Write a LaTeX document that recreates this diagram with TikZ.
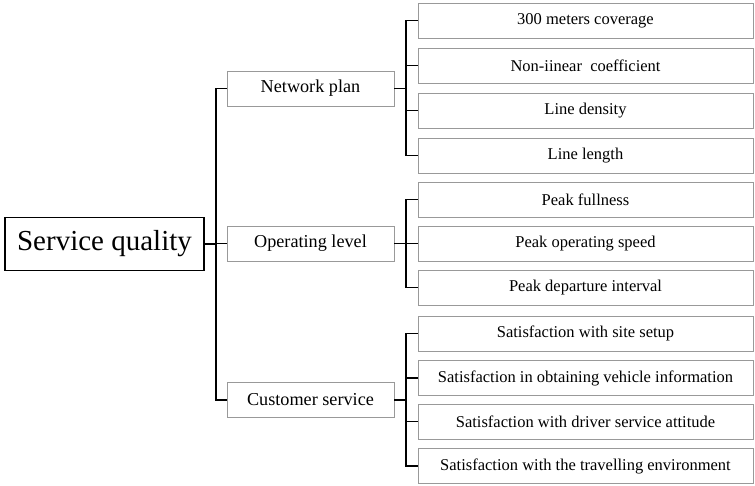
\documentclass[tikz,border=0pt]{standalone}
\usepackage{fontspec}
\setmainfont{Liberation Serif}
\begin{document}
\begin{tikzpicture}[x=1pt,y=-1pt,
  leafbox/.style={draw=black!40,line width=0.9pt,minimum width=335pt,minimum height=35pt,inner sep=0pt,font=\fontsize{16.5}{18}\selectfont},
  midbox/.style={draw=black!40,line width=0.9pt,minimum width=167pt,minimum height=35pt,inner sep=0pt,font=\fontsize{18.2}{20}\selectfont},
  rootbox/.style={draw=black,line width=1.8pt,minimum width=199pt,minimum height=53pt,inner sep=0pt,font=\fontsize{29}{32}\selectfont},
  conn/.style={draw=black,line width=1.8pt}]
\useasboundingbox (0,0) rectangle (755,485);
\node[rootbox] (root) at (104.5,244) {Service quality};
\node[midbox] (np) at (310.5,88.5) {Network plan};
\node[midbox] (ol) at (310.5,243.5) {Operating level};
\node[midbox] (cs) at (310.5,400) {Customer service};
\node[leafbox] (a1) at (585.5,20.5) {300 meters coverage};
\node[leafbox] (a2) at (585.5,65.5) {Non-iinear\ \ coefficient};
\node[leafbox] (a3) at (585.5,110.5) {Line density};
\node[leafbox] (a4) at (585.5,155.5) {Line length};
\node[leafbox] (b1) at (585.5,199.5) {Peak fullness};
\node[leafbox] (b2) at (585.5,243.5) {Peak operating speed};
\node[leafbox] (b3) at (585.5,287.5) {Peak departure interval};
\node[leafbox] (c1) at (585.5,333.5) {Satisfaction with site setup};
\node[leafbox] (c2) at (585.5,378) {Satisfaction in obtaining vehicle information};
\node[leafbox] (c3) at (585.5,421.5) {Satisfaction with driver service attitude};
\node[leafbox] (c4) at (585.5,466) {Satisfaction with the travelling environment};
\coordinate (t) at (216,0);
\coordinate (s) at (406,0);
\draw[conn] (root.east) -- (root.east -| t);
\draw[conn] (np.west) -- (np.west -| t) -- (cs.west -| t) -- (cs.west);
\draw[conn] (ol.west) -- (ol.west -| t);
\draw[conn] (np.east) -- (np.east -| s);
\draw[conn] (a1.west) -- (a1.west -| s) -- (a4.west -| s) -- (a4.west);
\draw[conn] (a2.west) -- (a2.west -| s);
\draw[conn] (a3.west) -- (a3.west -| s);
\draw[conn] (ol.east) -- (ol.east -| s);
\draw[conn] (b1.west) -- (b1.west -| s) -- (b3.west -| s) -- (b3.west);
\draw[conn] (b2.west) -- (b2.west -| s);
\draw[conn] (cs.east) -- (cs.east -| s);
\draw[conn] (c1.west) -- (c1.west -| s) -- (c4.west -| s) -- (c4.west);
\draw[conn] (c2.west) -- (c2.west -| s);
\draw[conn] (c3.west) -- (c3.west -| s);
\end{tikzpicture}
\end{document}
